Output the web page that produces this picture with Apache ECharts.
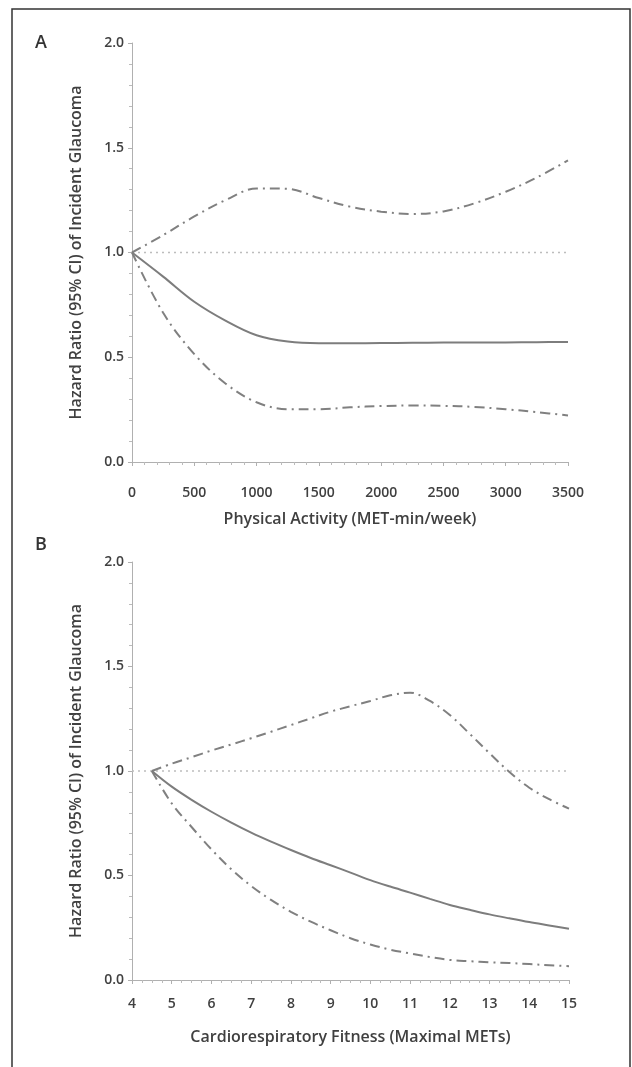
<!DOCTYPE html>
<html><head><meta charset="utf-8">
<script src="https://cdn.jsdelivr.net/npm/echarts@6/dist/echarts.min.js"></script>
<style>html,body{margin:0;padding:0;background:#fff}#c{width:632px;height:1067px}</style>
</head><body><div id="c"></div>
<script>
// Panel A: Physical Activity (MET-min/week)
const xA = [0,250,500,750,1000,1250,1500,1750,2000,2250,2500,2750,3000,3250,3500];
const hrA    = [1.0,0.885,0.765,0.675,0.605,0.575,0.567,0.567,0.568,0.569,0.570,0.571,0.571,0.572,0.573];
const upperA = [1.0,1.083,1.172,1.250,1.306,1.304,1.260,1.219,1.195,1.184,1.196,1.235,1.290,1.358,1.440];
const lowerA = [1.0,0.712,0.515,0.375,0.285,0.252,0.252,0.261,0.267,0.270,0.268,0.263,0.252,0.238,0.222];
// Panel B: Cardiorespiratory Fitness (Maximal METs)
const xB = [4.5,5,5.5,6,6.5,7,7.5,8,8.5,9,9.5,10,10.5,11,11.5,12,12.5,13,13.5,14,14.5,15];
const hrB    = [1.0,0.925,0.862,0.805,0.753,0.705,0.662,0.622,0.584,0.549,0.514,0.478,0.447,0.418,0.388,0.359,0.336,0.314,0.295,0.277,0.261,0.245];
const upperB = [1.0,1.035,1.066,1.098,1.127,1.157,1.188,1.220,1.252,1.284,1.310,1.335,1.362,1.375,1.335,1.268,1.178,1.085,0.995,0.920,0.865,0.820];
const lowerB = [1.0,0.845,0.732,0.625,0.530,0.450,0.383,0.326,0.279,0.238,0.200,0.170,0.145,0.127,0.110,0.096,0.090,0.085,0.081,0.076,0.071,0.066];
const yTicks = [0,0.5,1.0,1.5,2.0];
const refHR = 1.0;

const pair = (xs, ys) => xs.map((x,i)=>[x, ys[i]]);
const FONT = 'Open Sans';
const txt = '#404040';
const lineCol = '#7d7d7d';

function xAxisCfg(idx, min, max, interval, name, margin, nameGap){
  return {
    gridIndex: idx, type:'value', min, max, interval, offset: 7,
    name, nameLocation:'middle', nameGap,
    nameTextStyle:{fontFamily:FONT, fontSize:16, fontWeight:600, color:txt},
    axisLine:{lineStyle:{color:'#b0b0b0', width:1}},
    axisTick:{show:true, length:4, lineStyle:{color:'#b0b0b0'}},
    minorTick:{show:true, splitNumber: idx===0?5:4, length:3, lineStyle:{color:'#bbbbbb'}},
    axisLabel:{fontFamily:FONT, fontSize:14, fontWeight:600, color:txt, margin,
      formatter: v => String(v)},
    splitLine:{show:false}
  };
}
function yAxisCfg(idx){
  return {
    gridIndex: idx, type:'value', min:0, max:2, interval:0.5,
    name:'Hazard Ratio (95% CI) of Incident Glaucoma', nameLocation:'middle', nameGap:48,
    nameTextStyle:{fontFamily:FONT, fontSize:16, fontWeight:600, color:txt},
    axisLine:{show:true, lineStyle:{color:'#b0b0b0', width:1}},
    axisTick:{show:true, length:4, lineStyle:{color:'#b0b0b0'}},
    minorTick:{show:true, splitNumber:5, length:3, lineStyle:{color:'#bbbbbb'}},
    axisLabel:{fontFamily:FONT, fontSize:14, fontWeight:600, color:txt, margin:8,
      formatter: v => yTicks.includes(v) ? v.toFixed(1) : ''},
    splitLine:{show:false}
  };
}
function ser(idx, data, kind){
  const s = {type:'line', xAxisIndex:idx, yAxisIndex:idx, data, showSymbol:false, smooth:0.35,
    silent:true, lineStyle:{color:lineCol, width:2}};
  if(kind==='ci') s.lineStyle = {color:'#808080', width:2, type:[10,5,2,5]};
  if(kind==='ref') { s.smooth=false; s.lineStyle = {color:'#bdbdbd', width:1.5, type:[2,4]}; }
  return s;
}

const chart = echarts.init(document.getElementById('c'), null, {renderer:'canvas'});
chart.setOption({
  backgroundColor:'#fff',
  animation:false,
  grid:[
    {left:132, top:43, width:436, height:419},
    {left:132, top:562, width:437, height:418}
  ],
  xAxis:[
    xAxisCfg(0, 0, 3500, 500, 'Physical Activity (MET-min/week)', 17, 42),
    xAxisCfg(1, 4, 15, 1, 'Cardiorespiratory Fitness (Maximal METs)', 10, 42)
  ],
  yAxis:[yAxisCfg(0), yAxisCfg(1)],
  graphic:[
    {type:'rect', shape:{x:12, y:9, width:618, height:1100}, style:{fill:'none', stroke:'#333', lineWidth:1.5}},
    {type:'text', left:35, top:34, style:{text:'A', font:'600 18px "Open Sans"', fill:'#333'}},
    {type:'text', left:35, top:536, style:{text:'B', font:'600 18px "Open Sans"', fill:'#333'}}
  ],
  series:[
    ser(0, [[0,refHR],[3500,refHR]], 'ref'),
    ser(0, pair(xA, upperA), 'ci'),
    ser(0, pair(xA, lowerA), 'ci'),
    ser(0, pair(xA, hrA), 'hr'),
    ser(1, [[4,refHR],[15,refHR]], 'ref'),
    ser(1, pair(xB, upperB), 'ci'),
    ser(1, pair(xB, lowerB), 'ci'),
    ser(1, pair(xB, hrB), 'hr')
  ]
});
</script></body></html>
